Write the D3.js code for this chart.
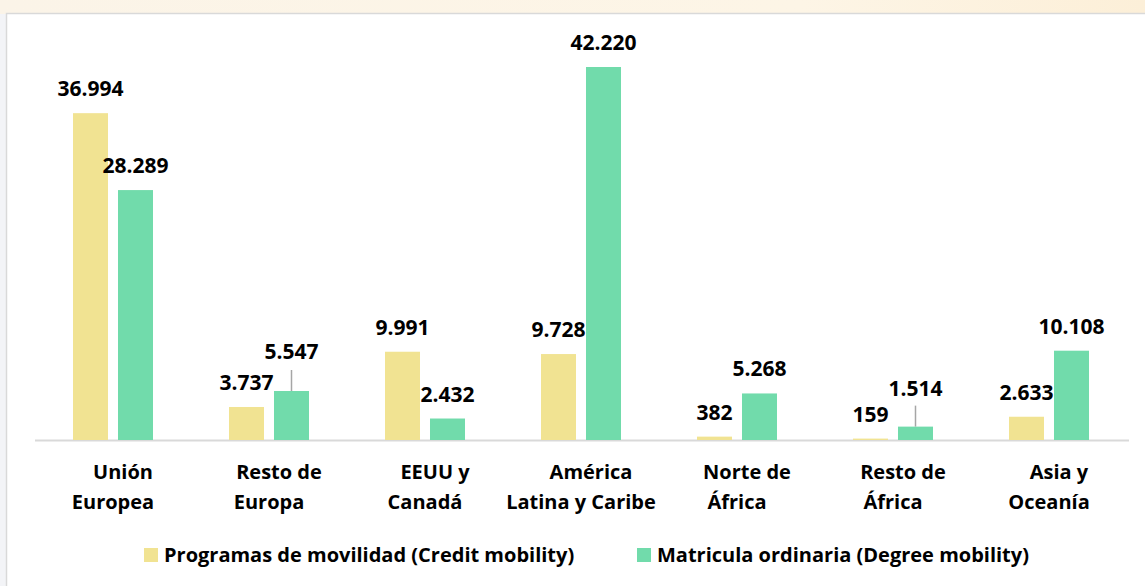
<!DOCTYPE html>
<html>
<head>
<meta charset="utf-8">
<script src="https://cdn.jsdelivr.net/npm/d3@7"></script>
<style>
  html, body { margin: 0; padding: 0; }
  body { width: 1145px; height: 586px; overflow: hidden; background: #fff; }
</style>
</head>
<body>
<script>
// regions (two lines each, as in the original wrapped axis labels)
const categories = [
  "Unión Europea",
  "Resto de Europa",
  "EEUU y Canadá",
  "América Latina y Caribe",
  "Norte de África",
  "Resto de África",
  "Asia y Oceanía",
];
const categoryLines = [
  ["Unión", "Europea"],
  ["Resto de", "Europa"],
  ["EEUU y", "Canadá"],
  ["América", "Latina y Caribe"],
  ["Norte de", "África"],
  ["Resto de", "África"],
  ["Asia y", "Oceanía"],
];

const seriesNames = [
  "Programas de movilidad (Credit mobility)",
  "Matricula ordinaria (Degree mobility)",
];
const creditMobility = [36994, 3737, 9991, 9728, 382, 159, 2633];
const degreeMobility = [28289, 5547, 2432, 42220, 5268, 1514, 10108];

const colors = ["#f1e392", "#71dbab"];

const width = 1145;
const height = 586;
const baseY = 440;

const fmt = (v) => d3.format(",")(v).replace(/,/g, ".");

const svg = d3.select("body")
  .append("svg")
  .attr("width", width)
  .attr("height", height)
  .style("font-family", "'Open Sans', sans-serif")
  .style("font-weight", "bold");

// backdrop: slide behind the chart frame
const defs = svg.append("defs");
const grad = defs.append("linearGradient").attr("id", "bg").attr("x1", 0).attr("x2", 1);
grad.append("stop").attr("offset", "0%").attr("stop-color", "#fbf4e8");
grad.append("stop").attr("offset", "70%").attr("stop-color", "#fdf5e6");
grad.append("stop").attr("offset", "100%").attr("stop-color", "#fcefd8");
svg.append("rect").attr("width", width).attr("height", 14).attr("fill", "url(#bg)");
svg.append("rect").attr("y", 14).attr("width", 6).attr("height", height).attr("fill", "#f3f4f7");

// chart frame
svg.append("rect")
  .attr("x", 6.5).attr("y", 13.5)
  .attr("width", width + 10).attr("height", height + 10)
  .attr("fill", "#fff")
  .attr("stroke", "#d9d9d9")
  .attr("stroke-width", 1.5);

const x = d3.scaleBand()
  .domain(categories)
  .range([35, 1127]);

const x1 = d3.scaleBand()
  .domain(seriesNames)
  .range([38, 118])
  .paddingInner(0.222);

const y = d3.scaleLinear()
  .domain([0, d3.max(degreeMobility.concat(creditMobility))])
  .range([baseY, 67]);

const rows = categories.flatMap((c, i) => [
  { cat: c, series: seriesNames[0], value: creditMobility[i], s: 0 },
  { cat: c, series: seriesNames[1], value: degreeMobility[i], s: 1 },
]);

// labels that were dragged up in the original, with a leader line
const lifted = { "Resto de Europa|1": 15, "Resto de África|1": 14 };

// baseline axis
svg.append("line")
  .attr("x1", x.range()[0]).attr("x2", x.range()[1] + 2)
  .attr("y1", baseY + 0.5).attr("y2", baseY + 0.5)
  .attr("stroke", "#d9d9d9")
  .attr("stroke-width", 2);

svg.append("g")
  .selectAll("rect")
  .data(rows)
  .join("rect")
  .attr("x", (d) => x(d.cat) + x1(d.series))
  .attr("y", (d) => y(d.value))
  .attr("width", x1.bandwidth())
  .attr("height", (d) => baseY - y(d.value))
  .attr("fill", (d) => colors[d.s]);

const cx = (d) => x(d.cat) + x1(d.series) + x1.bandwidth() / 2;

// leader lines
svg.append("g")
  .selectAll("line")
  .data(rows.filter((d) => lifted[d.cat + "|" + d.s]))
  .join("line")
  .attr("x1", cx).attr("x2", cx)
  .attr("y1", (d) => y(d.value) - 21)
  .attr("y2", (d) => y(d.value))
  .attr("stroke", "#a6a6a6")
  .attr("stroke-width", 1.5);

svg.append("g")
  .selectAll("text")
  .data(rows)
  .join("text")
  .attr("x", cx)
  .attr("y", (d) => y(d.value) - 17 - (lifted[d.cat + "|" + d.s] || 0))
  .attr("text-anchor", "middle")
  .attr("font-size", 21)
  .attr("fill", "#000")
  .text((d) => fmt(d.value));

// category labels
const catG = svg.append("g")
  .selectAll("text")
  .data(categories)
  .join("text")
  .attr("text-anchor", "middle")
  .attr("font-size", 20)
  .attr("fill", "#000");

catG.each(function (c, i) {
  const t = d3.select(this);
  const mid = x(c) + x.bandwidth() / 2;
  categoryLines[i].forEach((line, j) => {
    t.append("tspan")
      .attr("x", mid + (j === 0 ? 10 : 0))
      .attr("y", j === 0 ? 479 : 509)
      .text(line);
  });
});

// legend
const legendX = [144, 637];
const legend = svg.append("g")
  .selectAll("g")
  .data(seriesNames)
  .join("g")
  .attr("transform", (d, i) => `translate(${legendX[i]},548)`);

legend.append("rect")
  .attr("width", 14).attr("height", 14)
  .attr("fill", (d, i) => colors[i]);

legend.append("text")
  .attr("x", 20).attr("y", 14)
  .attr("font-size", 20)
  .attr("fill", "#000")
  .text((d) => d);
</script>
</body>
</html>
